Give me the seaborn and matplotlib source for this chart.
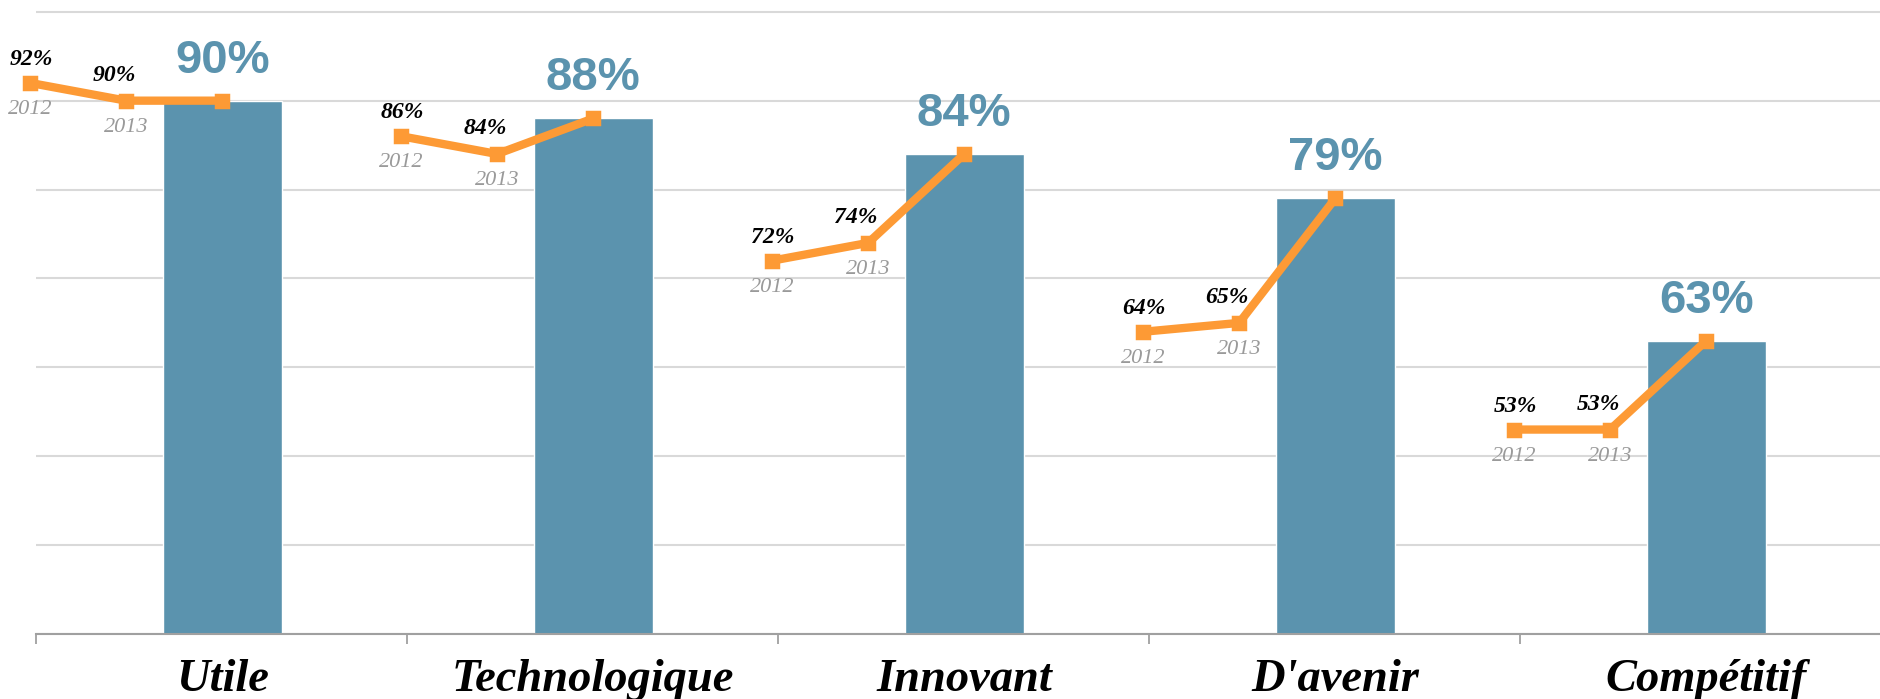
import numpy as np
import pandas as pd
import seaborn as sns
import matplotlib.pyplot as plt

# values
categories = ["Utile", "Technologique", "Innovant", "D'avenir", "Compétitif"]
years = ["2012", "2013", "2014"]
v2012 = [92, 86, 72, 64, 53]
v2013 = [90, 84, 74, 65, 53]
v2014 = [90, 88, 84, 79, 63]

blue = "#5b93ae"
orange = "#fd9a35"

# x positions inside each category slot (slot i spans i..i+1)
sub_x = [-0.016, 0.243, 0.502]

sns.set_theme(style="white")
plt.rcParams["font.family"] = ["Liberation Serif", "DejaVu Serif"]

fig = plt.figure(figsize=(18.81, 6.99), dpi=100)
ax = fig.add_axes([36 / 1881, 1 - 634 / 699, 1 - 36 / 1881, (634 - 10) / 699])

# bars = 2014
bars = pd.DataFrame({"x": [i + sub_x[2] for i in range(len(categories))], "y": v2014})
sns.barplot(data=bars, x="x", y="y", native_scale=True, width=0.32, color=blue,
            saturation=1, errorbar=None, ax=ax, zorder=2)

# orange lines 2012 -> 2013 -> 2014 for each category
rows = []
for i, cat in enumerate(categories):
    for j, vals in enumerate([v2012, v2013, v2014]):
        rows.append({"cat": cat, "year": years[j], "x": i + sub_x[j], "y": vals[i]})
lines = pd.DataFrame(rows)
sns.lineplot(data=lines, x="x", y="y", units="cat", estimator=None, sort=False,
             color=orange, lw=6, marker="s", markersize=8.5, markeredgewidth=2.5,
             markeredgecolor=orange, legend=False, ax=ax, zorder=3)
for ln in ax.lines:
    ln.set_clip_on(False)
    ln.set_solid_capstyle("round")
    ln.set_solid_joinstyle("round")

# axes styling
ax.set_xlim(0, 1845 / 371)
ax.set_ylim(30, 100.2)
ax.set_yticks(range(30, 101, 10))
ax.set_yticklabels([])
ax.yaxis.grid(True, color="#d9d9d9", lw=1.5)
ax.set_axisbelow(True)
ax.tick_params(axis="y", length=0)
ax.set_xticks(range(len(categories)))
ax.set_xticklabels([])
ax.tick_params(axis="x", direction="out", length=7.5, width=1.3, color="#a0a0a0", bottom=True)
for s in ["left", "top", "right"]:
    ax.spines[s].set_visible(False)
ax.spines["bottom"].set_color("#a0a0a0")
ax.spines["bottom"].set_linewidth(1.5)
ax.set_xlabel("")
ax.set_ylabel("")

# labels
for i, cat in enumerate(categories):
    for j, vals in enumerate([v2012, v2013]):
        x = i + sub_x[j]
        dx = 1 if j == 0 else -12
        dy = 18 if j == 0 else 20
        ax.annotate(f"{vals[i]}%", (x, vals[i]), xytext=(dx, dy), textcoords="offset pixels",
                    ha="center", va="baseline", fontsize=17, fontweight="bold",
                    fontstyle="italic", color="black", annotation_clip=False)
        ax.annotate(years[j], (x, vals[i]), xytext=(0, -31), textcoords="offset pixels",
                    ha="center", va="baseline", fontsize=16, fontstyle="italic",
                    color="#9a9a9a", annotation_clip=False)
    ax.annotate(f"{v2014[i]}%", (i + sub_x[2], v2014[i]), xytext=(0, 28),
                textcoords="offset pixels", ha="center", va="baseline", fontsize=34,
                fontweight="bold", family=["Liberation Sans", "DejaVu Sans"], color=blue)
    ax.annotate(cat, (i + sub_x[2], 0), xycoords=("data", "axes fraction"),
                xytext=(0, -57), textcoords="offset pixels", ha="center", va="baseline",
                fontsize=33.5, fontweight="bold", fontstyle="italic", color="black",
                annotation_clip=False)

plt.savefig("out.png", dpi=100)
